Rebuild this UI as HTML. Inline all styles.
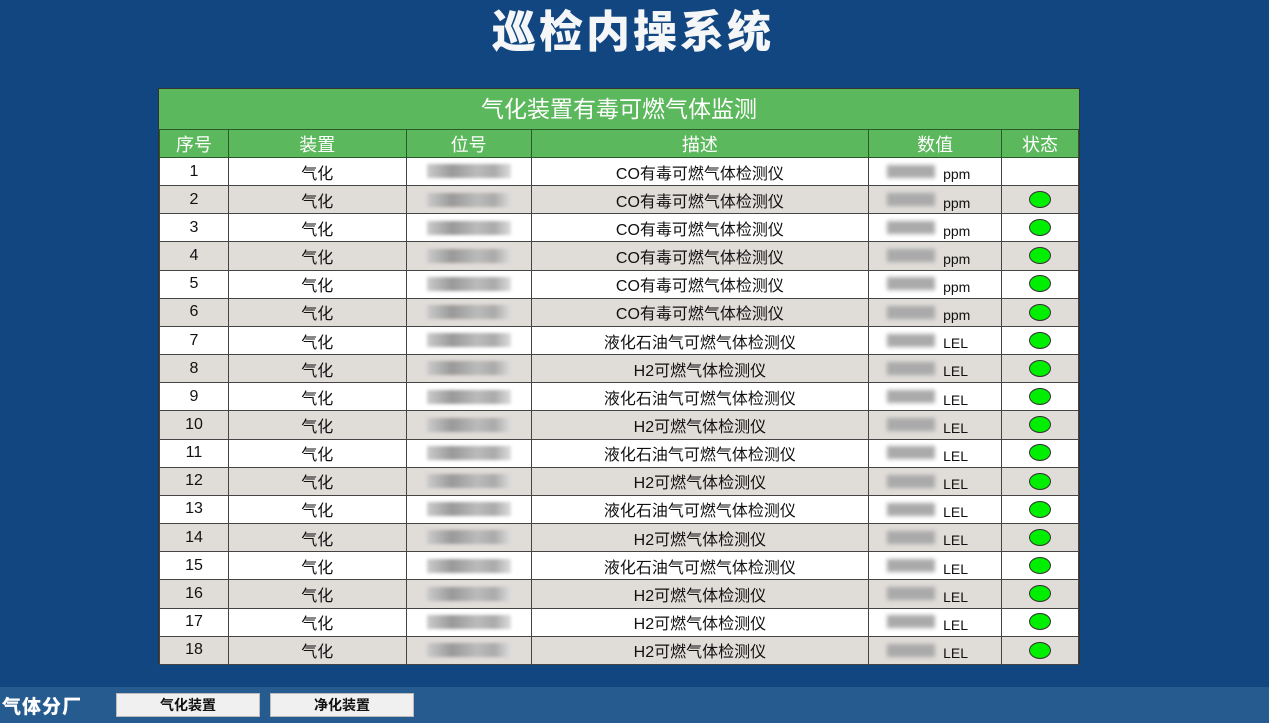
<!DOCTYPE html>
<html><head><meta charset="utf-8"><style>
*{margin:0;padding:0;box-sizing:border-box}
body{width:1269px;height:723px;background:#124680;position:relative;overflow:hidden;font-family:"Liberation Sans","Noto Sans CJK SC",sans-serif}
.t{position:absolute;left:0;width:1266px;top:-4px;text-align:center;color:#f4f6f8;font-size:44px;font-weight:900;letter-spacing:3px}
.tb{position:absolute;left:158px;top:88px;width:922px;height:576px;border:1px solid #333;background:#fff}
.cap{position:absolute;left:0;top:0;width:920px;height:40px;background:#5cb85c;color:#fff;font-size:23px;text-align:center;line-height:40px}
table{position:absolute;left:0;top:40px;border-collapse:collapse;width:920px}
td{border:1px solid #444;text-align:center;font-size:16px;color:#111;height:28.17px;padding:0;position:relative}
tr.h td{background:#5cb85c;color:#fff;font-size:18px;height:28px;border-color:#2a5a2a}
tr:nth-child(odd):not(.h) td{background:#e0dcd8}
.bl{display:inline-block;width:84px;height:14px;background:linear-gradient(90deg,#ccc,#999 30%,#bbb 60%,#aaa 80%,#ddd);filter:blur(1.5px);vertical-align:middle}
.v{display:inline-block;width:48px;height:13px;background:#aaa;filter:blur(2px);vertical-align:middle;margin-right:8px}
.u{display:inline-block;width:40px;text-align:left;font-size:14px;vertical-align:middle;position:relative;top:3px}
.d{display:inline-block;width:22px;height:17px;border-radius:50%;background:#00ee00;border:1px solid #333;vertical-align:middle}
.bar{position:absolute;left:0;top:687px;width:1269px;height:36px;background:#255b8f}
.bar span{position:absolute;top:5px;color:#fff;font-weight:900;font-size:19px;left:2px;letter-spacing:1px}
.btn{position:absolute;top:6px;width:144px;height:24px;background:#f0f0f0;border:1px solid #bbb;text-align:center;font-size:14px;font-weight:bold;line-height:22px;color:#111}
</style></head><body>
<div class="t">巡检内操系统</div>
<div class="tb">
<div class="cap">气化装置有毒可燃气体监测</div>
<table>
<colgroup><col style="width:69px"><col style="width:178px"><col style="width:125px"><col style="width:338px"><col style="width:133px"><col style="width:77px"></colgroup>
<tr class="h"><td>序号</td><td>装置</td><td>位号</td><td>描述</td><td>数值</td><td>状态</td></tr>
<tr><td>1</td><td>气化</td><td><span class="bl"></span></td><td>CO有毒可燃气体检测仪</td><td><span class="v"></span><span class="u">ppm</span></td><td></td></tr>
<tr><td>2</td><td>气化</td><td><span class="bl"></span></td><td>CO有毒可燃气体检测仪</td><td><span class="v"></span><span class="u">ppm</span></td><td><span class="d"></span></td></tr>
<tr><td>3</td><td>气化</td><td><span class="bl"></span></td><td>CO有毒可燃气体检测仪</td><td><span class="v"></span><span class="u">ppm</span></td><td><span class="d"></span></td></tr>
<tr><td>4</td><td>气化</td><td><span class="bl"></span></td><td>CO有毒可燃气体检测仪</td><td><span class="v"></span><span class="u">ppm</span></td><td><span class="d"></span></td></tr>
<tr><td>5</td><td>气化</td><td><span class="bl"></span></td><td>CO有毒可燃气体检测仪</td><td><span class="v"></span><span class="u">ppm</span></td><td><span class="d"></span></td></tr>
<tr><td>6</td><td>气化</td><td><span class="bl"></span></td><td>CO有毒可燃气体检测仪</td><td><span class="v"></span><span class="u">ppm</span></td><td><span class="d"></span></td></tr>
<tr><td>7</td><td>气化</td><td><span class="bl"></span></td><td>液化石油气可燃气体检测仪</td><td><span class="v"></span><span class="u">LEL</span></td><td><span class="d"></span></td></tr>
<tr><td>8</td><td>气化</td><td><span class="bl"></span></td><td>H2可燃气体检测仪</td><td><span class="v"></span><span class="u">LEL</span></td><td><span class="d"></span></td></tr>
<tr><td>9</td><td>气化</td><td><span class="bl"></span></td><td>液化石油气可燃气体检测仪</td><td><span class="v"></span><span class="u">LEL</span></td><td><span class="d"></span></td></tr>
<tr><td>10</td><td>气化</td><td><span class="bl"></span></td><td>H2可燃气体检测仪</td><td><span class="v"></span><span class="u">LEL</span></td><td><span class="d"></span></td></tr>
<tr><td>11</td><td>气化</td><td><span class="bl"></span></td><td>液化石油气可燃气体检测仪</td><td><span class="v"></span><span class="u">LEL</span></td><td><span class="d"></span></td></tr>
<tr><td>12</td><td>气化</td><td><span class="bl"></span></td><td>H2可燃气体检测仪</td><td><span class="v"></span><span class="u">LEL</span></td><td><span class="d"></span></td></tr>
<tr><td>13</td><td>气化</td><td><span class="bl"></span></td><td>液化石油气可燃气体检测仪</td><td><span class="v"></span><span class="u">LEL</span></td><td><span class="d"></span></td></tr>
<tr><td>14</td><td>气化</td><td><span class="bl"></span></td><td>H2可燃气体检测仪</td><td><span class="v"></span><span class="u">LEL</span></td><td><span class="d"></span></td></tr>
<tr><td>15</td><td>气化</td><td><span class="bl"></span></td><td>液化石油气可燃气体检测仪</td><td><span class="v"></span><span class="u">LEL</span></td><td><span class="d"></span></td></tr>
<tr><td>16</td><td>气化</td><td><span class="bl"></span></td><td>H2可燃气体检测仪</td><td><span class="v"></span><span class="u">LEL</span></td><td><span class="d"></span></td></tr>
<tr><td>17</td><td>气化</td><td><span class="bl"></span></td><td>H2可燃气体检测仪</td><td><span class="v"></span><span class="u">LEL</span></td><td><span class="d"></span></td></tr>
<tr><td>18</td><td>气化</td><td><span class="bl"></span></td><td>H2可燃气体检测仪</td><td><span class="v"></span><span class="u">LEL</span></td><td><span class="d"></span></td></tr>
</table>
</div>
<div class="bar"><span>气体分厂</span><div class="btn" style="left:116px">气化装置</div><div class="btn" style="left:270px">净化装置</div></div>
</body></html>
